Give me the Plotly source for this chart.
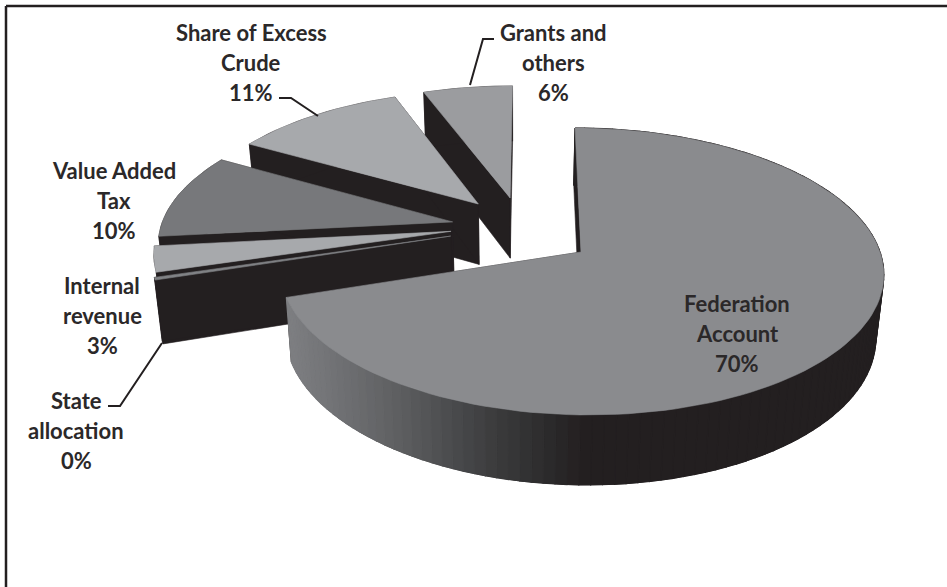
import math
import plotly.graph_objects as go

# Revenue shares, in percent, clockwise from twelve o'clock
categories = ["Federation<br>Account", "State<br>allocation", "Internal<br>revenue",
              "Value Added<br>Tax", "Share of Excess<br>Crude", "Grants and<br>others"]
values = [70.0, 0.3, 3.0, 10.0, 11.0, 5.7]

top_colors = ["#8a8b8e", "#808285", "#a7a9ac", "#77787b", "#a7a9ac", "#9b9c9f"]
WALL = "#231f20"
TEXT = "#2b2829"

# Slice displacement on the pie plane, in radius units
pulls = [(0.0, 0.0), (-0.44, 0.115), (-0.44, 0.15), (-0.437, 0.22), (-0.352, 0.3575), (-0.241, 0.4046)]

# Perspective camera for the pie plane
CX, CY, BX, AY, K, SHEAR = 581.0, 252.0, 299.0, 140.8, 0.136, 0.048
VANISH_X, DROP_X = 516.0, 0.0218


def project(u, v):
    d = 1 + K * v
    y = CY - AY * v / d
    x = CX + BX * u / d + SHEAR * (y - CY)
    return x, y


def drop(p):
    x, y = p
    return x + (VANISH_X - x) * DROP_X, y + 57 + 0.045 * (y - 128)


def rim(pull, deg):
    a = math.radians(deg)
    return project(pull[0] + math.sin(a), pull[1] + math.cos(a))


def poly(fig, pts, color, width=0.6):
    xs = [p[0] for p in pts] + [pts[0][0]]
    ys = [p[1] for p in pts] + [pts[0][1]]
    fig.add_trace(go.Scatter(x=xs, y=ys, mode="lines", fill="toself", fillcolor=color,
                             line=dict(color=color, width=width), hoverinfo="skip", showlegend=False))


def side_shade(x):
    # Shading of the large slice's outer wall, left to right
    stops = [(290, (125, 126, 129)), (350, (108, 109, 112)), (400, (93, 94, 96)),
             (450, (74, 75, 77)), (500, (58, 58, 59)), (550, (43, 42, 43)), (585, (35, 31, 32))]
    if x <= stops[0][0]:
        c = stops[0][1]
    elif x >= stops[-1][0]:
        c = stops[-1][1]
    else:
        for (x0, c0), (x1, c1) in zip(stops, stops[1:]):
            if x0 <= x <= x1:
                t = (x - x0) / (x1 - x0)
                c = tuple(round(a + (b - a) * t) for a, b in zip(c0, c1))
                break
    return "rgb(%d,%d,%d)" % c


total = sum(values)
spans = []
start = 0.0
for val in values:
    end = start + val / total * 360
    spans.append((start, end))
    start = end

fig = go.Figure()

# Paint the displaced slices from the back forward, the large slice last
for i in [5, 4, 3, 2, 1, 0]:
    a0, a1 = spans[i]
    pull = pulls[i]
    apex = project(*pull)
    n = max(2, int((a1 - a0) / 2))
    angles = [a0 + (a1 - a0) * j / n for j in range(n + 1)]
    arc = [rim(pull, a) for a in angles]

    poly(fig, [apex, arc[0], drop(arc[0]), drop(apex)], WALL)
    poly(fig, [apex, arc[-1], drop(arc[-1]), drop(apex)], WALL)
    poly(fig, arc + [drop(p) for p in reversed(arc)], WALL)
    if i == 0:
        for p, q in zip(arc, arc[1:]):
            poly(fig, [p, q, drop(q), drop(p)], side_shade((p[0] + q[0]) / 2), width=1.2)
    poly(fig, [apex] + arc, top_colors[i])

# Label text comes straight from the values; lines are placed singly for the wider leading
LEADING = 30
label_pos = [(737, 333), (76, 430), (102, 315), (114, 200), (251, 62), (553, 62)]
for name, val, (lx, ly) in zip(categories, values, label_pos):
    lines = name.split("<br>") + [f"{round(val)}%"]
    for k, line in enumerate(lines):
        fig.add_annotation(x=lx, y=ly + (k - 1) * LEADING, xref="x", yref="y", showarrow=False,
                           text=line, yanchor="middle", xanchor="center",
                           font=dict(family="Lato", size=22, color=TEXT, weight=700))

# Leader lines
leaders = [
    ([279, 291, 318], [98, 98, 116]),
    ([494, 483, 470], [39, 39, 85]),
    ([108, 120, 162], [406, 406, 343]),
]
for lx, ly in leaders:
    fig.add_trace(go.Scatter(x=lx, y=ly, mode="lines", line=dict(color=WALL, width=2),
                             hoverinfo="skip", showlegend=False))

# Frame along the top and left only
fig.add_shape(type="line", x0=6, x1=947, y0=6, y1=6, xref="x", yref="y", line=dict(color=WALL, width=2.5))
fig.add_shape(type="line", x0=6, x1=6, y0=6, y1=587, xref="x", yref="y", line=dict(color=WALL, width=2.5))

fig.update_xaxes(range=[0, 947], visible=False, fixedrange=True)
fig.update_yaxes(range=[587, 0], visible=False, fixedrange=True)
fig.update_layout(width=947, height=587, margin=dict(l=0, r=0, t=0, b=0),
                  paper_bgcolor="white", plot_bgcolor="white", showlegend=False)

fig.write_html("out.html", config={"displayModeBar": False})
